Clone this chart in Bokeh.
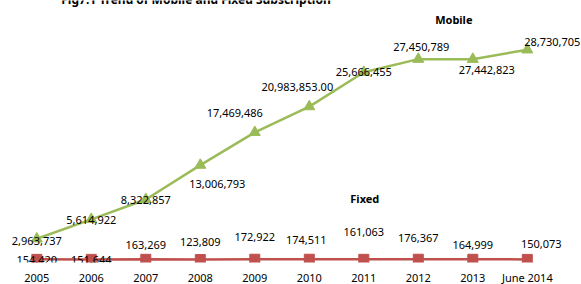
from bokeh.plotting import figure
from bokeh.models import ColumnDataSource, Range1d, LinearAxis, FixedTicker, Label
from bokeh.core.properties import value
from bokeh.embed import file_html
from bokeh.resources import INLINE

# ---- data ----
categories = ["2005", "2006", "2007", "2008", "2009", "2010", "2011", "2012", "2013", "June 2014"]
mobile = [2963737, 5614922, 8322857, 13006793, 17469486, 20983853, 25666455, 27450789, 27442823, 28730705]
fixed = [154420, 151644, 163269, 123809, 172922, 174511, 161063, 176367, 164999, 150073]
mobile_labels = ["2,963,737", "5,614,922", "8,322,857", "13,006,793", "17,469,486", "20,983,853.00",
                 "25,666,455", "27,450,789", "27,442,823", "28,730,705"]
fixed_labels = ["154,420", "151,644", "163,269", "123,809", "172,922", "174,511", "161,063",
                "176,367", "164,999", "150,073"]
title_text = "Fig7.1 Trend of Mobile and Fixed Subscription"

# ---- layout / style ----
FONT = "Noto Sans"
GREEN = "#9BBB59"
RED = "#C0504D"
mob_dx = [0, 0, 0, 17, -20, -12, 0, 3, 14, 25]
mob_dy = [2, 1, 1, 19, -19, -20, 0, -12, 11, -8]
fix_dx = [0, 0, 0, 0, 0, -3, 0, 0, 0, 14]
fix_dy = [1, 1, -14, -18, -22, -19, -27, -21, -14, -15]

idx = list(range(len(categories)))

px_per_unit = 7.335e-6
zero_px = 260.0
frame_h = 262

p = figure(frame_width=581, frame_height=frame_h, output_backend="svg", toolbar_location=None,
           min_border=0, min_border_left=0, min_border_right=0, min_border_top=0, min_border_bottom=0,
           x_axis_type=None, y_axis_type=None,
           x_range=Range1d(-36.3 / 54.5, (581 - 36.3) / 54.5),
           y_range=Range1d(-(frame_h - zero_px) / px_per_unit, zero_px / px_per_unit))
p.outline_line_color = None
p.grid.visible = False
p.background_fill_color = "white"
p.border_fill_color = "white"

xaxis = LinearAxis(ticker=FixedTicker(ticks=idx),
                   major_label_overrides={i: c for i, c in zip(idx, categories)})
xaxis.axis_line_color = None
xaxis.major_tick_line_color = None
xaxis.minor_tick_line_color = None
xaxis.major_label_standoff = 1
xaxis.major_label_text_font = FONT
xaxis.major_label_text_font_size = "11px"
xaxis.major_label_text_color = "black"
p.add_layout(xaxis, "below")

src = ColumnDataSource(dict(x=idx, mobile=mobile, fixed=fixed, ml=mobile_labels, fl=fixed_labels,
                            mdx=mob_dx, mdy=mob_dy, fdx=fix_dx, fdy=fix_dy))

p.line("x", "fixed", source=src, line_color=RED, line_width=2.5)
p.scatter("x", "fixed", source=src, marker="square", size=10, fill_color=RED, line_color=RED)
p.line("x", "mobile", source=src, line_color=GREEN, line_width=2.5)
p.scatter("x", "mobile", source=src, marker="triangle", size=11, fill_color=GREEN, line_color=GREEN)

p.text("x", "mobile", text="ml", source=src, x_offset="mdx", y_offset="mdy",
       text_font=value(FONT), text_font_size="11px", text_color="black",
       text_align="center", text_baseline="middle")
p.text("x", "fixed", text="fl", source=src, x_offset="fdx", y_offset="fdy",
       text_font=value(FONT), text_font_size="11px", text_color="black",
       text_align="center", text_baseline="middle")

# series name labels anchored to data points
name_src = ColumnDataSource(dict(x=[idx[8], idx[6]], y=[mobile[8], fixed[6]], t=["Mobile", "Fixed"],
                                 dx=[-19, 1], dy=[-40, -61]))
p.text("x", "y", text="t", source=name_src, x_offset="dx", y_offset="dy",
       text_font=value(FONT), text_font_size="11px", text_font_style="bold", text_color="black",
       text_align="center", text_baseline="middle")

p.add_layout(Label(x=195.5, y=frame_h + 1, x_units="screen", y_units="screen", text=title_text,
                   text_font=FONT, text_font_size="12px", text_font_style="bold",
                   text_align="center", text_baseline="alphabetic", text_color="black"))

open("out.html", "w").write(file_html(p, INLINE))
